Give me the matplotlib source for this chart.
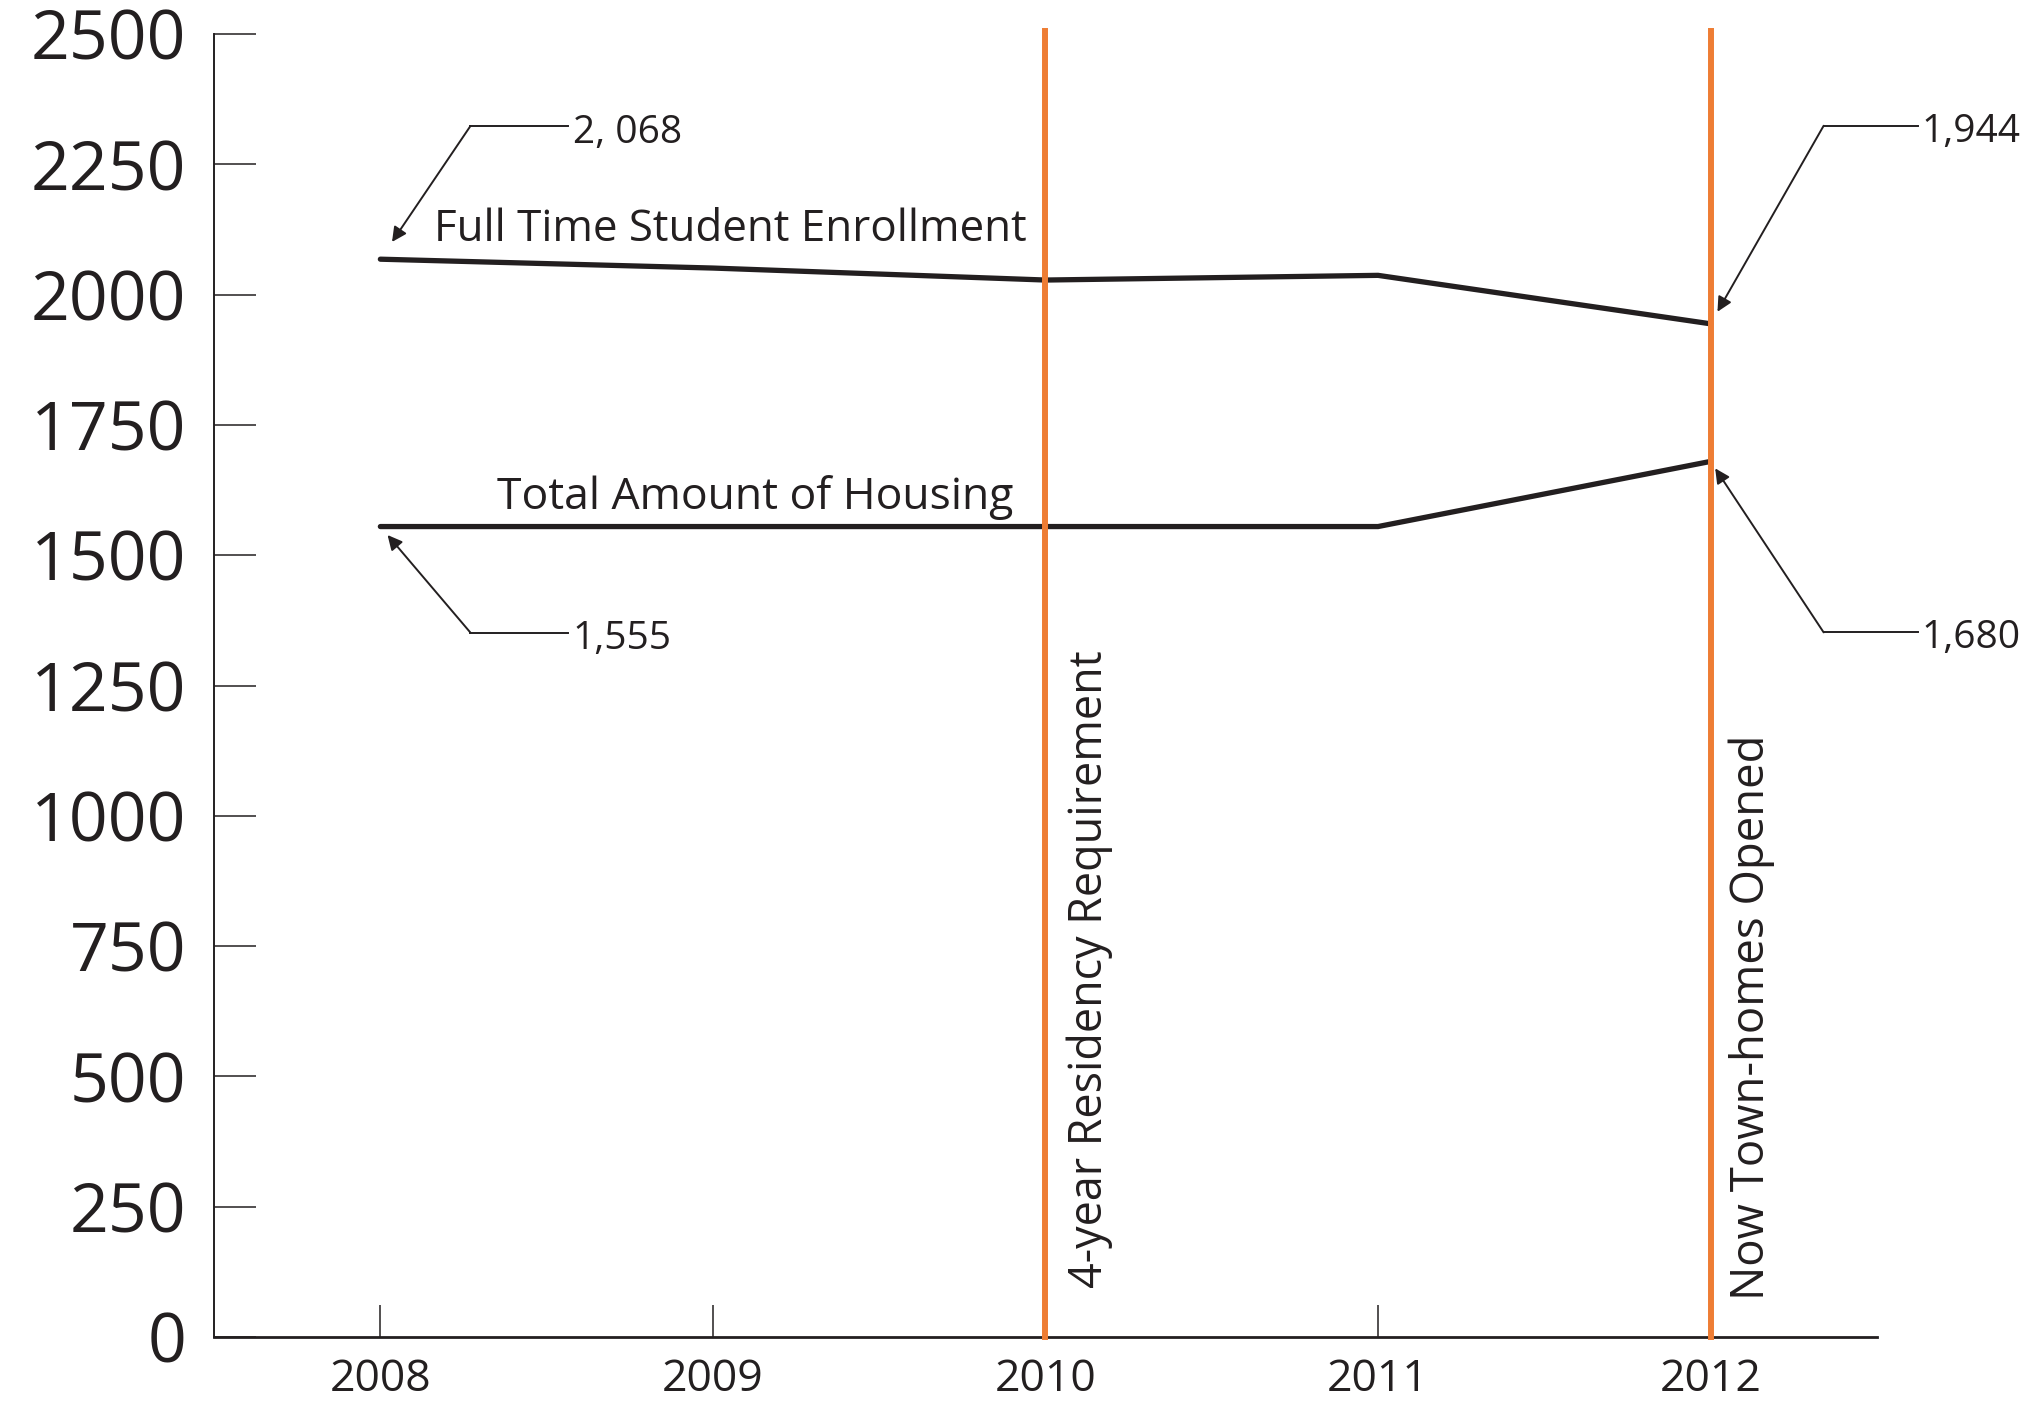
import matplotlib
matplotlib.use('Agg')
import matplotlib.pyplot as plt
from matplotlib.transforms import offset_copy

# data
years = [2008, 2009, 2010, 2011, 2012]
enrollment = [2068, 2051, 2028, 2037, 1944]
housing = [1555, 1555, 1555, 1555, 1680]
y_ticks = [0, 250, 500, 750, 1000, 1250, 1500, 1750, 2000, 2250, 2500]
events = [2010, 2012]
event_labels = ['4-year Residency Requirement', 'Now Town-homes Opened']
callouts = [
    # (year, value, label, corner offset pt, leader length pt, text baseline pt, shrink pt)
    (2008, 2068, '2, 068', (64.8, 95.8), 70.6, 84.0, 15),
    (2008, 1555, '1,555', (64.8, -76.3), 70.6, -88.0, 8),
    (2012, 1944, '1,944', (81.4, 142.6), 67.7, 131.0, 10),
    (2012, 1680, '1,680', (81.4, -123.1), 67.7, -134.6, 6),
]

ink = '#231f20'
orange = '#ee7d34'
plt.rcParams['font.family'] = ['Open Sans', 'DejaVu Sans']

fig = plt.figure(figsize=(20.33, 14.01), dpi=100)
ax = fig.add_axes([0.1053, 0.0457, 0.8179, 0.93])

ax.plot(years, enrollment, color=ink, lw=3.8, solid_capstyle='round', solid_joinstyle='miter', zorder=3)
ax.plot(years, housing, color=ink, lw=3.8, solid_capstyle='round', solid_joinstyle='miter', zorder=3)

for ev in events:
    ax.axvline(ev, ymin=0, ymax=1.002, color=orange, lw=4.3, clip_on=False, zorder=4)

ax.set_xlim(2007.5, 2012.5)
ax.set_ylim(0, 2500)
ax.set_xticks(years)
ax.set_yticks(y_ticks)
ax.set_xticklabels([str(y) for y in years], fontsize=32, color=ink)
ax.set_yticklabels([str(v) for v in y_ticks], fontsize=49, color=ink)
ax.tick_params(axis='y', direction='in', length=30, width=1.1, color=ink, pad=20)
ax.tick_params(axis='x', direction='in', length=23, width=1.1, color=ink, pad=15)

for s in ['top', 'right']:
    ax.spines[s].set_visible(False)
ax.spines['left'].set_linewidth(1.4)
ax.spines['left'].set_color(ink)
ax.spines['bottom'].set_linewidth(2.0)
ax.spines['bottom'].set_color(ink)

# line labels
ax.text(2008.16, 2102, 'Full Time Student Enrollment', fontsize=31.6, color=ink, ha='left', va='baseline')
ax.text(2008.35, 1588, 'Total Amount of Housing', fontsize=32, color=ink, ha='left', va='baseline')

# event labels
ax.text(events[0] + 0.063, 94, event_labels[0], rotation=90, fontsize=32.3, color=ink,
        ha='left', va='bottom')
ax.text(events[1] + 0.054, 71, event_labels[1], rotation=90, fontsize=32.8, color=ink,
        ha='left', va='bottom')

# callouts
for yr, val, lab, corner, leader, base, shrink in callouts:
    ax.annotate('', xy=(yr, val), xytext=corner, textcoords='offset points',
                arrowprops=dict(arrowstyle='-|>', color=ink, lw=1.4, mutation_scale=22,
                                shrinkA=0, shrinkB=shrink),
                annotation_clip=False)
    ax.annotate(lab, xy=(yr, val), xytext=(corner[0] + leader + 3, base),
                textcoords='offset points', fontsize=28, color=ink,
                ha='left', va='baseline', annotation_clip=False)
    # leader line
    tr0 = offset_copy(ax.transData, fig=fig, x=corner[0], y=corner[1], units='points')
    tr1 = offset_copy(ax.transData, fig=fig, x=corner[0] + leader, y=corner[1], units='points')
    p0 = tr0.transform((yr, val))
    p1 = tr1.transform((yr, val))
    fig.add_artist(plt.Line2D([p0[0], p1[0]], [p0[1], p1[1]], transform=None,
                              color=ink, lw=1.4))

fig.savefig('out.png', dpi=100)
